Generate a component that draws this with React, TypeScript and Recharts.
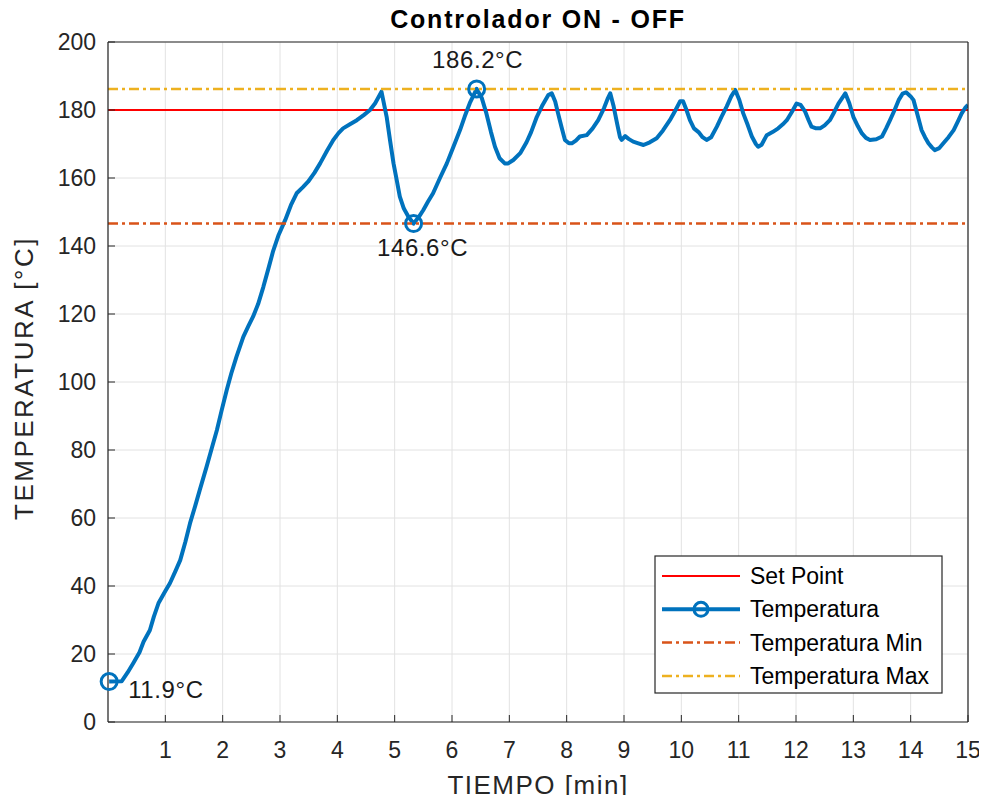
import React from "react";
import {
  CartesianGrid,
  Line,
  LineChart,
  ReferenceDot,
  ReferenceLine,
  XAxis,
  YAxis,
} from "recharts";

// tiempo [min] y temperatura [°C]
const tiempo = [
  0.02, 0.24, 0.34, 0.44, 0.55, 0.62, 0.73, 0.8, 0.88, 1.0, 1.08, 1.18, 1.26,
  1.35, 1.43, 1.52, 1.6, 1.72, 1.81, 1.9, 1.98, 2.07, 2.15, 2.24, 2.36, 2.45,
  2.53, 2.62, 2.71, 2.8, 2.88, 2.97, 3.09, 3.19, 3.29, 3.4, 3.49, 3.6, 3.7,
  3.82, 3.93, 4.02, 4.1, 4.22, 4.34, 4.46, 4.57, 4.66, 4.77, 4.86, 4.92, 4.98,
  5.04, 5.09, 5.16, 5.24, 5.33, 5.42, 5.5, 5.58, 5.67, 5.79, 5.91, 6.02, 6.14,
  6.22, 6.31, 6.43, 6.52, 6.6, 6.68, 6.75, 6.83, 6.92, 6.98, 7.07, 7.19, 7.3,
  7.38, 7.48, 7.58, 7.68, 7.74, 7.8, 7.85, 7.91, 7.97, 8.04, 8.09, 8.16, 8.23,
  8.35, 8.45, 8.55, 8.65, 8.72, 8.76, 8.82, 8.88, 8.93, 8.96, 9.02, 9.08, 9.16,
  9.25, 9.34, 9.45, 9.57, 9.68, 9.8, 9.9, 9.98, 10.03, 10.09, 10.15, 10.22,
  10.3, 10.37, 10.44, 10.52, 10.62, 10.7, 10.79, 10.87, 10.94, 11.01, 11.08,
  11.16, 11.23, 11.3, 11.34, 11.4, 11.49, 11.59, 11.69, 11.77, 11.84, 11.93,
  12.01, 12.08, 12.16, 12.22, 12.27, 12.35, 12.42, 12.5, 12.59, 12.67, 12.74,
  12.86, 12.93, 13.0, 13.08, 13.15, 13.22, 13.29, 13.4, 13.5, 13.57, 13.64,
  13.72, 13.79, 13.86, 13.92, 14.0, 14.05, 14.12, 14.19, 14.25, 14.31, 14.37,
  14.42, 14.5, 14.57, 14.66, 14.75, 14.82, 14.89, 14.95, 15.0,
];

const temperatura = [
  11.9, 12.0, 14.5, 17.3, 20.5, 23.6, 27, 31, 34.9, 38.5, 40.8, 44.5, 47.6, 53,
  58.4, 63.5, 68.2, 75.1, 80.5, 85.9, 91.5, 97.6, 102.5, 107.4, 113.3, 116.5,
  119.2, 123, 128, 133.5, 138.5, 143, 147.6, 152, 155.5, 157.3, 158.9, 161.5,
  164.3, 168, 171.2, 173.2, 174.6, 175.8, 177, 178.5, 180, 182, 185.4, 178, 171,
  164.3, 159, 154.5, 151, 148.6, 146.6, 148.5, 150.6, 153, 155.5, 160, 164.3,
  169, 174.1, 178, 182, 186.2, 183.5, 179, 173.5, 169.2, 165.8, 164.3, 164.3,
  165.3, 167.3, 170.5, 173.5, 178, 181.5, 184.4, 184.9, 182.5, 179, 175, 171.2,
  170.2, 170.2, 171, 172.2, 172.6, 174.5, 177, 180.5, 183.5, 184.9, 181, 176,
  172, 171.2, 172.3, 171.5, 170.7, 170.2, 169.7, 170.5, 171.7, 174, 177, 180,
  182.6, 182.6, 180, 177, 174.6, 173.5, 172, 171.2, 172, 175.1, 178, 181, 184,
  185.9, 183, 179, 175.5, 172.2, 170, 169.2, 169.8, 172.6, 173.5, 174.6, 175.8,
  177, 179.5, 181.9, 181.5, 179.5, 177, 175.1, 174.6, 174.6, 175.5, 177, 179.5,
  181.9, 184.9, 182, 178, 175.2, 173.1, 171.8, 171.2, 171.4, 172.2, 174.5, 177,
  180, 182.9, 184.8, 185.2, 184, 182.9, 178.5, 174.1, 172, 170.2, 169, 168.2,
  168.8, 170.2, 172, 174.1, 176.5, 179, 180.6, 181.5,
];

const setPoint = 180;
const tempMin = 146.6;
const tempMax = 186.2;

// puntos marcados: inicio, minimo y maximo
const marcasT = [0.02, 5.33, 6.43];
const marcasY = [11.9, 146.6, 186.2];
const marcasTexto = ["11.9°C", "146.6°C", "186.2°C"];

const xTicks = [1, 2, 3, 4, 5, 6, 7, 8, 9, 10, 11, 12, 13, 14, 15];
const yTicks = [0, 20, 40, 60, 80, 100, 120, 140, 160, 180, 200];

const data = tiempo.map((t, i) => ({ t, temp: temperatura[i] }));

const FONT = "'Liberation Sans', Arial, Helvetica, sans-serif";
const AXIS = "#262626";
const BLUE = "#0072BD";
const RED = "#FF0000";
const ORANGE = "#D95319";
const YELLOW = "#EDB120";
const DASHDOT = "10 4 3 4";

const XTick = (props: any) => {
  const { x, y, payload } = props;
  return (
    <text x={x} y={y + 36} textAnchor="middle" fontFamily={FONT} fontSize={23} fill={AXIS}>
      {payload.value}
    </text>
  );
};

const YTick = (props: any) => {
  const { x, y, payload } = props;
  return (
    <text x={x - 12} y={y + 8} textAnchor="end" fontFamily={FONT} fontSize={23} fill={AXIS}>
      {payload.value}
    </text>
  );
};

// etiqueta de cada punto marcado, relativa al centro del circulo
const DotLabel = (props: any) => {
  const { viewBox, text, dx, dy, anchor } = props;
  if (!viewBox) return null;
  const cx = viewBox.x + viewBox.width / 2;
  const cy = viewBox.y + viewBox.height / 2;
  return (
    <text
      x={cx + dx}
      y={cy + dy}
      textAnchor={anchor}
      fontFamily={FONT}
      fontSize={24}
      letterSpacing={0.6}
      fill="#1a1a1a"
    >
      {text}
    </text>
  );
};

const labelPos = [
  { dx: 19, dy: 16, anchor: "start" },
  { dx: 9, dy: 32, anchor: "middle" },
  { dx: 1, dy: -21, anchor: "middle" },
];

const legendItems = [
  { name: "Set Point", color: RED, width: 2, dash: undefined, marker: false },
  { name: "Temperatura", color: BLUE, width: 4, dash: undefined, marker: true },
  { name: "Temperatura Min", color: ORANGE, width: 2.5, dash: DASHDOT, marker: false },
  { name: "Temperatura Max", color: YELLOW, width: 2.5, dash: DASHDOT, marker: false },
];

export default function App() {
  return (
    <div style={{ position: "relative", width: 979, height: 787 }}>
      <LineChart
        width={979}
        height={787}
        data={data}
        margin={{ top: 24, right: 9, bottom: 33, left: 40 }}
      >
        <CartesianGrid stroke="#e2e2e2" strokeWidth={1} />
        <XAxis
          dataKey="t"
          type="number"
          domain={[0, 15]}
          ticks={xTicks}
          interval={0}
          allowDataOverflow
          height={40}
          tickSize={-7}
          tickMargin={7}
          tick={<XTick />}
          axisLine={{ stroke: AXIS, strokeWidth: 1.2 }}
          tickLine={{ stroke: AXIS }}
        />
        <XAxis
          xAxisId="top"
          orientation="top"
          dataKey="t"
          type="number"
          domain={[0, 15]}
          ticks={xTicks}
          interval={0}
          allowDataOverflow
          height={10}
          tickSize={-7}
          tick={false}
          axisLine={{ stroke: AXIS, strokeWidth: 1.2 }}
          tickLine={{ stroke: AXIS }}
        />
        <YAxis
          type="number"
          domain={[0, 200]}
          ticks={yTicks}
          interval={0}
          allowDataOverflow
          width={60}
          tickSize={-7}
          tickMargin={7}
          tick={<YTick />}
          axisLine={{ stroke: AXIS, strokeWidth: 1.2 }}
          tickLine={{ stroke: AXIS }}
        />
        <YAxis
          yAxisId="right"
          orientation="right"
          type="number"
          domain={[0, 200]}
          ticks={yTicks}
          interval={0}
          allowDataOverflow
          width={10}
          tickSize={-7}
          tick={false}
          axisLine={{ stroke: AXIS, strokeWidth: 1.2 }}
          tickLine={{ stroke: AXIS }}
        />
        <ReferenceLine y={setPoint} stroke={RED} strokeWidth={2} />
        <Line
          type="linear"
          dataKey="temp"
          stroke={BLUE}
          strokeWidth={4}
          strokeLinejoin="round"
          dot={false}
          activeDot={false}
          isAnimationActive={false}
        />
        <ReferenceLine y={tempMin} stroke={ORANGE} strokeWidth={2.5} strokeDasharray={DASHDOT} />
        <ReferenceLine y={tempMax} stroke={YELLOW} strokeWidth={2.5} strokeDasharray={DASHDOT} />
        {marcasT.map((t, i) => (
          <ReferenceDot
            key={i}
            x={t}
            y={marcasY[i]}
            r={8}
            fill="none"
            stroke={BLUE}
            strokeWidth={3}
            label={<DotLabel text={marcasTexto[i]} {...labelPos[i]} />}
          />
        ))}
      </LineChart>

      {/* titulo, ejes y leyenda */}
      <svg
        width={979}
        height={795}
        style={{ position: "absolute", left: 0, top: 0, pointerEvents: "none", overflow: "visible" }}
      >
        <text
          x={530}
          y={20}
          textAnchor="middle"
          fontFamily={FONT}
          fontSize={25}
          fontWeight="bold"
          letterSpacing={1.8}
          fill="#000"
        >
          Controlador ON - OFF
        </text>
        <text
          x={530}
          y={786}
          textAnchor="middle"
          fontFamily={FONT}
          fontSize={26}
          letterSpacing={1.5}
          fill={AXIS}
        >
          TIEMPO [min]
        </text>
        <text
          x={25}
          y={370}
          transform="rotate(-90, 25, 370)"
          textAnchor="middle"
          fontFamily={FONT}
          fontSize={26}
          letterSpacing={2.5}
          fill={AXIS}
        >
          TEMPERATURA [°C]
        </text>

        <g transform="translate(647, 548)">
          <rect x={0} y={0} width={287} height={137} fill="#fff" stroke={AXIS} strokeWidth={1.2} />
          {legendItems.map((item, i) => {
            const cy = 20 + i * 33.3;
            return (
              <g key={item.name}>
                <line
                  x1={7}
                  x2={85}
                  y1={cy}
                  y2={cy}
                  stroke={item.color}
                  strokeWidth={item.width}
                  strokeDasharray={item.dash}
                />
                {item.marker && (
                  <circle cx={46} cy={cy} r={7} fill="none" stroke={item.color} strokeWidth={3} />
                )}
                <text x={95} y={cy + 8} fontFamily={FONT} fontSize={23} fill="#000">
                  {item.name}
                </text>
              </g>
            );
          })}
        </g>
      </svg>
    </div>
  );
}
